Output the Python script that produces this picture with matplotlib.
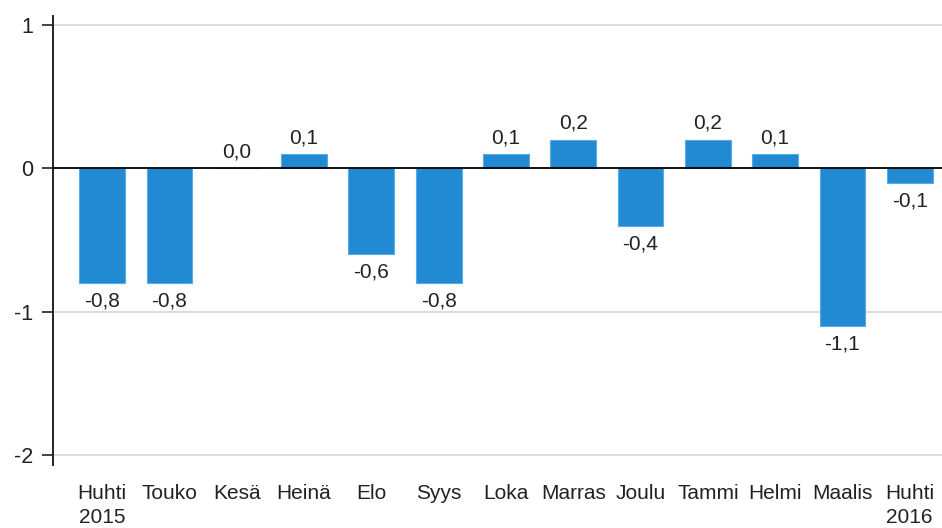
import matplotlib.pyplot as plt
import numpy as np

# Data
months = ['Huhti\n2015', 'Touko', 'Kesä', 'Heinä', 'Elo', 'Syys', 'Loka',
          'Marras', 'Joulu', 'Tammi', 'Helmi', 'Maalis', 'Huhti\n2016']
values = [-0.8, -0.8, 0.0, 0.1, -0.6, -0.8, 0.1, 0.2, -0.4, 0.2, 0.1, -1.1, -0.1]
yticks = [-2, -1, 0, 1]

plt.rcParams['font.family'] = ['Liberation Sans', 'DejaVu Sans']
text_color = '#222222'

# Layout
fig = plt.figure(figsize=(9.42, 5.28), dpi=100)
ax = fig.add_axes([0.0563, 0.1193, 0.9437, 0.8504])

x = np.arange(len(months))

# Grid and zero line
for t in yticks:
    if t != 0:
        ax.axhline(t, color='#dcdcdc', linewidth=1.4, zorder=0)
ax.axhline(0, color='black', linewidth=1.3, zorder=3)

# Bars
ax.bar(x, values, width=0.68, color='#228ad2', edgecolor='#5aaae6',
       linewidth=0.8, zorder=2)

# Value labels
for xi, v in zip(x, values):
    label = f'{v:.1f}'.replace('.', ',')
    if v < 0:
        ax.annotate(label, (xi, v), xytext=(0, -6), textcoords='offset points',
                    ha='center', va='top', fontsize=15, color=text_color)
    else:
        ax.annotate(label, (xi, v), xytext=(0, 5), textcoords='offset points',
                    ha='center', va='bottom', fontsize=15, color=text_color)

# Details
ax.set_xlim(-0.73, 12.48)
ax.set_ylim(-2.07, 1.063)
ax.set_yticks(yticks)
ax.set_yticklabels([str(t) for t in yticks])
ax.set_xticks(x)
ax.set_xticklabels(months, linespacing=1.3)

for side in ['top', 'right', 'bottom']:
    ax.spines[side].set_visible(False)
ax.spines['left'].set_linewidth(1.4)
ax.spines['left'].set_color('#222222')

ax.tick_params(axis='y', length=8, width=1.2, color='#222222', pad=6,
               labelsize=15.5, labelcolor=text_color)
ax.tick_params(axis='x', length=0, pad=14, labelsize=15, labelcolor=text_color)

# Output
fig.savefig('out.png', dpi=100)
